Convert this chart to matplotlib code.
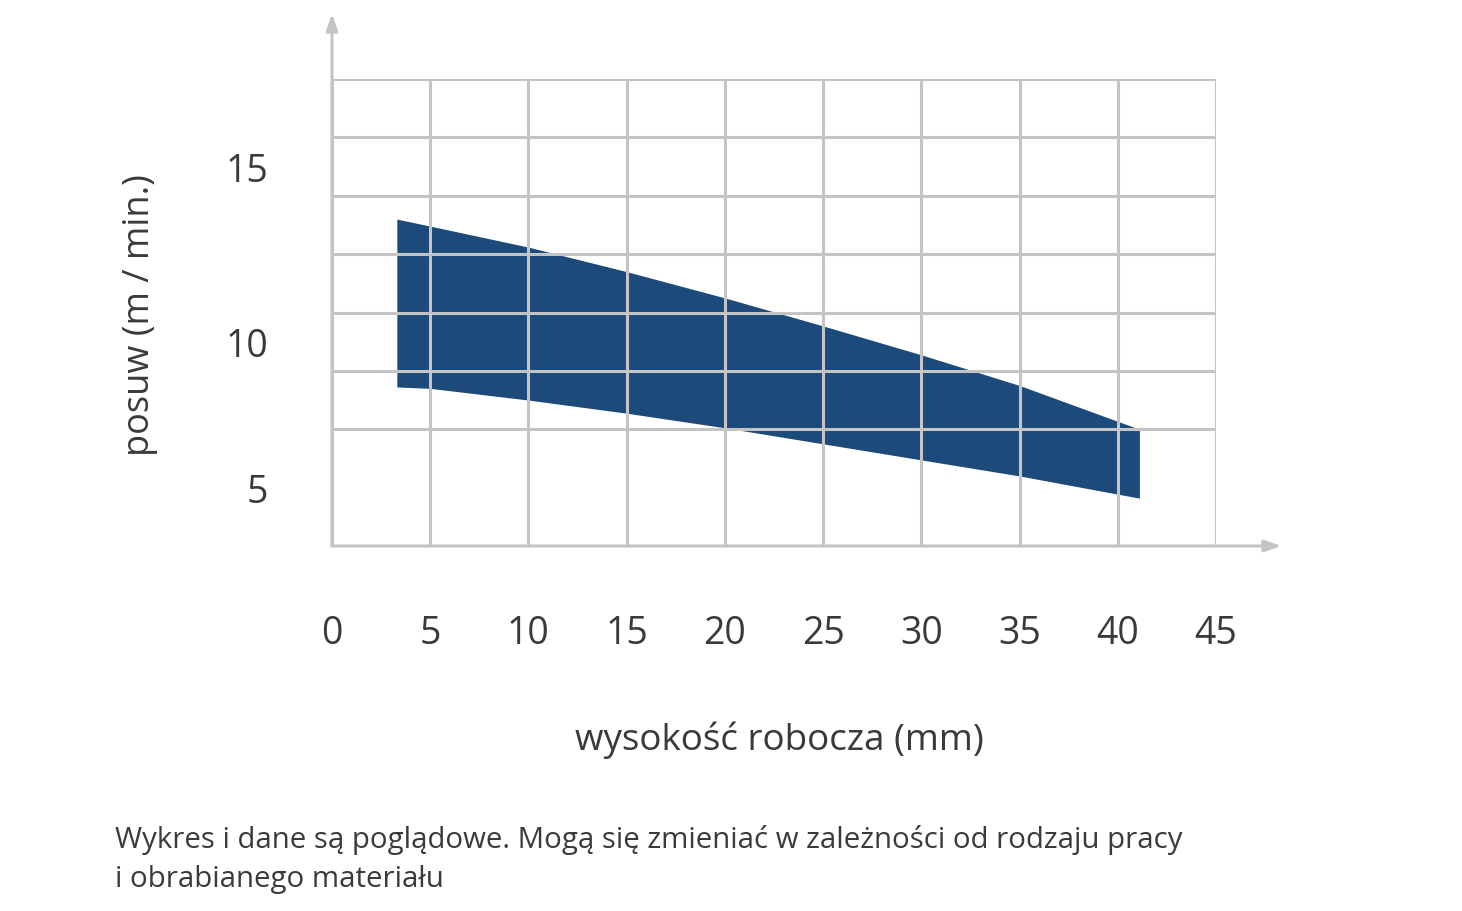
import numpy as np
import matplotlib
matplotlib.use("Agg")
import matplotlib.pyplot as plt
from matplotlib.ticker import FixedLocator, NullFormatter

# ---- data ----
x_vals = [3.3, 5, 10, 15, 20, 25, 30, 35, 41.1]
upper = [13.5, 13.3, 12.7, 12.0, 11.25, 10.45, 9.55, 8.5, 7.0]
lower = [8.45, 8.4, 8.0, 7.55, 7.05, 6.5, 5.95, 5.4, 4.1]
x_ticks = [0, 5, 10, 15, 20, 25, 30, 35, 40, 45]
y_ticks = [5, 10, 15]

# the picture's y axis is not linear: label positions in grid rows
scale_vals = [0, 5, 10, 15, 20]
scale_pos = [0, 1, 3.5, 6.5, 9.5]

def fwd(v):
    return np.interp(v, scale_vals, scale_pos)

def inv(p):
    return np.interp(p, scale_pos, scale_vals)

plt.rcParams['font.family'] = ['Open Sans', 'DejaVu Sans']
TXT = '#3a3a3a'
GRID = '#c4c4c4'
BAND = '#1c4a7a'

fig = plt.figure(figsize=(14.62, 9.12), dpi=100)
ax = fig.add_axes([332/1462, 1-547/912, (1216-332)/1462, (547-80)/912])
ax.set_yscale('function', functions=(fwd, inv))
ax.set_xlim(0, 45)
ax.set_ylim(inv(0), inv(8))

ax.fill_between(x_vals, lower, upper, color=BAND, lw=0, zorder=1)

# grid
ax.set_xticks(x_ticks)
ax.set_yticks(y_ticks)
ax.yaxis.set_minor_locator(FixedLocator([inv(i) for i in range(9)]))
ax.yaxis.set_minor_formatter(NullFormatter())
ax.xaxis.grid(True, which='major', color=GRID, lw=2.2, zorder=2)
ax.yaxis.grid(True, which='minor', color=GRID, lw=2.2, zorder=2)
ax.yaxis.grid(False, which='major')
ax.set_axisbelow(False)
for s in ax.spines.values():
    s.set_visible(False)

ax.tick_params(which='both', length=0)
ax.tick_params(axis='x', pad=49, labelsize=27, labelcolor=TXT)
ax.tick_params(axis='y', pad=46, labelsize=27, labelcolor=TXT)

# axes with arrows
ax.annotate('', xy=(0, 1.14), xytext=(0, 0), xycoords='axes fraction',
            arrowprops=dict(arrowstyle='-|>,head_length=1.0,head_width=0.35',
                            color=GRID, lw=2.2, shrinkA=0, shrinkB=0),
            annotation_clip=False)
ax.annotate('', xy=(1.074, 0), xytext=(0, 0), xycoords='axes fraction',
            arrowprops=dict(arrowstyle='-|>,head_length=1.0,head_width=0.35',
                            color=GRID, lw=2.2, shrinkA=0, shrinkB=0),
            annotation_clip=False)

fig.text(779/1462, 1-740/912, 'wysokość robocza (mm)', ha='center', va='center',
         fontsize=26.5, color=TXT)
fig.text(140/1462, 1-315/912, 'posuw (m / min.)', ha='center', va='center',
         rotation=90, fontsize=26, color=TXT)
fig.text(115/1462, 1-840/912,
         'Wykres i dane są poglądowe. Mogą się zmieniać w zależności od rodzaju pracy',
         ha='left', va='center', fontsize=21.2, color=TXT)
fig.text(115/1462, 1-880/912, 'i obrabianego materiału',
         ha='left', va='center', fontsize=21.2, color=TXT)

fig.savefig('out.png', dpi=100, facecolor='white')
